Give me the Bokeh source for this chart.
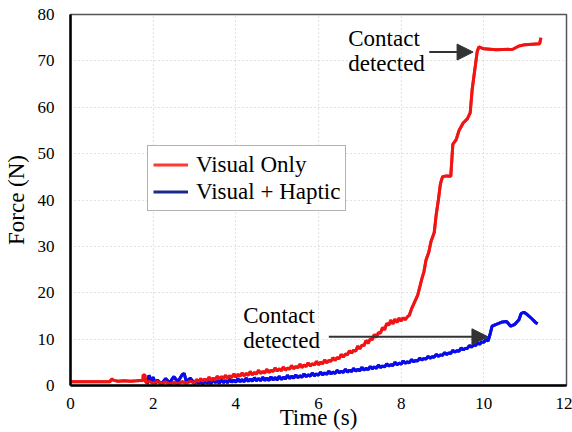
from bokeh.plotting import figure
from bokeh.models import (Range1d, Legend, LegendItem, Arrow, NormalHead, Label, FixedTicker)
from bokeh.embed import file_html
from bokeh.resources import INLINE

# ---------------- data ----------------
visual_t = [0.0, 0.5, 0.95, 1.0, 1.05, 1.15, 1.3, 1.45, 1.6, 1.7, 1.75, 1.76, 1.8, 1.82, 1.9,
            2.0, 2.1, 2.2, 2.3, 2.4, 2.5, 2.6, 2.7, 2.8, 2.9,
            3.00, 3.05, 3.10, 3.15, 3.20, 3.25, 3.30, 3.35, 3.40, 3.45,
            3.50, 3.55, 3.60, 3.65, 3.70, 3.75, 3.80, 3.85, 3.90, 3.95,
            4.00, 4.05, 4.10, 4.15, 4.20, 4.25, 4.30, 4.35, 4.40, 4.45,
            4.50, 4.55, 4.60, 4.65, 4.70, 4.75, 4.80, 4.85, 4.90, 4.95,
            5.00, 5.05, 5.10, 5.15, 5.20, 5.25, 5.30, 5.35, 5.40, 5.45,
            5.50, 5.55, 5.60, 5.65, 5.70, 5.75, 5.80, 5.85, 5.90, 5.95,
            6.00, 6.05, 6.10, 6.15, 6.20, 6.25, 6.30, 6.35, 6.40, 6.45,
            6.50, 6.55, 6.60, 6.65, 6.70, 6.75, 6.80, 6.85, 6.90, 6.95,
            7.00, 7.05, 7.10, 7.15, 7.20, 7.25, 7.30, 7.35, 7.40, 7.45,
            7.50, 7.55, 7.60, 7.65, 7.70, 7.75, 7.80, 7.85, 7.90, 7.95,
            8.00, 8.05, 8.10, 8.15, 8.20, 8.25, 8.3, 8.4, 8.5, 8.55, 8.6, 8.67, 8.72, 8.8, 8.85, 8.9, 8.95,
            9.0, 9.1, 9.2, 9.25, 9.33, 9.4, 9.5, 9.6, 9.67, 9.72, 9.78, 9.84, 9.88,
            10.0, 10.3, 10.7, 10.85, 11.0, 11.35, 11.38]
visual_f = [0.8, 0.8, 0.8, 1.4, 1.1, 0.9, 1.0, 0.9, 1.0, 1.1, 1.0, 2.3, 2.2, 0.7, 0.9,
            0.5, 0.9, 0.4, 0.8, 0.3, 0.7, 0.4, 0.8, 0.5, 0.9,
            0.6, 1.3, 0.8, 1.5, 0.9, 1.4, 1.0, 1.8, 1.1, 1.6,
            1.2, 2.0, 1.4, 1.9, 1.5, 2.2, 1.6, 2.1, 1.7, 2.5,
            1.8, 2.4, 2.0, 2.7, 2.1, 2.6, 2.2, 3.0, 2.3, 2.8,
            2.5, 3.3, 2.6, 3.0, 2.7, 3.5, 2.8, 3.3, 3.0, 3.8,
            3.1, 3.6, 3.2, 4.0, 3.3, 3.8, 3.5, 4.3, 3.6, 4.1,
            3.8, 4.6, 3.9, 4.4, 4.1, 4.9, 4.2, 4.7, 4.4, 5.2,
            4.5, 5.0, 4.7, 5.5, 4.9, 5.4, 5.2, 6.0, 5.4, 6.0,
            5.8, 6.7, 6.1, 6.8, 6.6, 7.5, 7.0, 7.6, 7.4, 8.5,
            7.9, 8.7, 8.6, 9.7, 9.1, 10.0, 9.9, 11.0, 10.4, 11.4,
            11.3, 12.5, 12.0, 13.4, 13.0, 14.1, 13.3, 14.3, 13.6, 14.5,
            13.9, 14.6, 14.2, 14.8, 15.2, 16.5, 17.5, 19.5, 23.0, 24.5, 27.0, 28.8, 31.0, 33.0, 37.0, 40.0, 43.5,
            45.0, 45.2, 45.1, 52.0, 53.0, 55.0, 56.6, 57.5, 58.8, 64.0, 68.0, 72.0, 73.0,
            72.6, 72.4, 72.5, 73.2, 73.5, 73.7, 75.0]

haptic_t = [1.85, 1.9, 1.95, 2.0, 2.05, 2.1, 2.2, 2.3, 2.4, 2.5, 2.6, 2.7, 2.75, 2.8, 2.9,
            3.00, 3.05, 3.10, 3.15, 3.20, 3.25, 3.30, 3.35, 3.40, 3.45,
            3.50, 3.55, 3.60, 3.65, 3.70, 3.75, 3.80, 3.85, 3.90, 3.95,
            4.00, 4.05, 4.10, 4.15, 4.20, 4.25, 4.30, 4.35, 4.40, 4.45,
            4.50, 4.55, 4.60, 4.65, 4.70, 4.75, 4.80, 4.85, 4.90, 4.95,
            5.00, 5.05, 5.10, 5.15, 5.20, 5.25, 5.30, 5.35, 5.40, 5.45,
            5.50, 5.55, 5.60, 5.65, 5.70, 5.75, 5.80, 5.85, 5.90, 5.95,
            6.00, 6.05, 6.10, 6.15, 6.20, 6.25, 6.30, 6.35, 6.40, 6.45,
            6.50, 6.55, 6.60, 6.65, 6.70, 6.75, 6.80, 6.85, 6.90, 6.95,
            7.00, 7.05, 7.10, 7.15, 7.20, 7.25, 7.30, 7.35, 7.40, 7.45,
            7.50, 7.55, 7.60, 7.65, 7.70, 7.75, 7.80, 7.85, 7.90, 7.95,
            8.00, 8.05, 8.10, 8.15, 8.20, 8.25, 8.30, 8.35, 8.40, 8.45,
            8.50, 8.55, 8.60, 8.65, 8.70, 8.75, 8.80, 8.85, 8.90, 8.95,
            9.00, 9.05, 9.10, 9.15, 9.20, 9.25, 9.30, 9.35, 9.40, 9.45,
            9.50, 9.55, 9.60, 9.65, 9.70, 9.75, 9.80, 9.85, 9.90, 9.95,
            10.00, 10.05, 10.10, 10.15, 10.2, 10.3, 10.45, 10.55, 10.65, 10.75, 10.85,
            10.9, 10.97, 11.05, 11.15, 11.25, 11.3]
haptic_f = [0.3, 2.2, 0.8, 1.8, 0.4, 1.2, 0.3, 1.5, 0.6, 1.9, 0.8, 2.3, 2.6, 0.9, 1.6,
            0.4, 1.0, 0.5, 0.9, 0.3, 1.1, 0.5, 0.9, 0.4, 1.2,
            0.6, 1.0, 0.5, 1.3, 0.6, 1.1, 0.6, 1.4, 0.7, 1.2,
            0.7, 1.5, 0.8, 1.3, 0.8, 1.6, 0.9, 1.4, 0.9, 1.7,
            1.0, 1.5, 1.0, 1.8, 1.1, 1.6, 1.1, 1.9, 1.2, 1.7,
            1.2, 2.0, 1.3, 1.8, 1.4, 2.2, 1.5, 2.0, 1.6, 2.3,
            1.7, 2.1, 1.8, 2.5, 1.9, 2.3, 2.0, 2.7, 2.1, 2.5,
            2.2, 2.9, 2.3, 2.7, 2.4, 3.1, 2.5, 2.9, 2.6, 3.3,
            2.7, 3.1, 2.8, 3.5, 2.9, 3.3, 3.0, 3.7, 3.1, 3.5,
            3.2, 3.9, 3.3, 3.7, 3.4, 4.1, 3.6, 4.0, 3.7, 4.4,
            3.9, 4.2, 4.0, 4.7, 4.2, 4.5, 4.3, 5.0, 4.5, 4.8,
            4.6, 5.3, 4.8, 5.1, 4.9, 5.6, 5.1, 5.4, 5.3, 5.9,
            5.5, 5.8, 5.7, 6.3, 5.9, 6.2, 6.1, 6.7, 6.3, 6.6,
            6.5, 7.1, 6.7, 7.0, 6.9, 7.6, 7.2, 7.5, 7.4, 8.1,
            7.7, 8.0, 8.0, 8.6, 8.3, 8.7, 8.6, 9.2, 8.9, 9.4,
            9.3, 9.9, 9.6, 11.0, 12.8, 13.2, 13.7, 13.8, 12.8, 13.2, 14.2,
            15.5, 15.8, 15.3, 14.5, 13.6, 13.3]

x_ticks = [0, 2, 4, 6, 8, 10, 12]
y_ticks = [0, 10, 20, 30, 40, 50, 60, 70, 80]
series_labels = ["Visual Only", "Visual + Haptic"]

# annotation positions (data units)
note_top_text = (6.72, 74.9, 69.5)      # x, baseline of "Contact", baseline of "detected"
note_top_arrow = (8.68, 9.74, 71.9)      # x_start, x_end, y
note_bot_text = (4.18, 15.0, 9.7)
note_bot_arrow = (6.25, 10.1, 10.5)

# ---------------- figure ----------------
SERIF = "Liberation Serif"
p = figure(width=572, height=432, output_backend="svg", toolbar_location=None,
           x_range=Range1d(0, 12), y_range=Range1d(0, 80),
           min_border_left=70, min_border_right=6, min_border_top=14, min_border_bottom=45,
           x_axis_label="Time (s)", y_axis_label="Force (N)")
p.background_fill_color = "white"
p.border_fill_color = "white"
p.outline_line_color = "#555555"
p.outline_line_width = 1.5

for ax in (p.xaxis[0], p.yaxis[0]):
    ax.axis_line_color = "black"
    ax.axis_line_width = 2.5
    ax.major_tick_line_color = None
    ax.minor_tick_line_color = None
    ax.major_label_text_font = SERIF
    ax.major_label_text_font_size = "17px"
    ax.major_label_text_color = "black"
    ax.axis_label_text_font = SERIF
    ax.axis_label_text_font_size = "23px"
    ax.axis_label_text_font_style = "normal"
    ax.axis_label_text_color = "black"

p.xaxis.major_label_standoff = 6
p.yaxis.major_label_standoff = 10
p.xaxis.ticker = FixedTicker(ticks=x_ticks)
p.yaxis.ticker = FixedTicker(ticks=y_ticks)
p.xaxis.axis_label_standoff = -7
p.yaxis.axis_label_standoff = 6

for g in (p.xgrid[0], p.ygrid[0]):
    g.grid_line_color = "#c4c4c4"
    g.grid_line_dash = "1 3"
    g.grid_line_width = 1

# legend-coloured underlays (fully covered by the curves drawn on top)
lr2 = p.line(haptic_t, haptic_f, line_color="#1c2a8e", line_width=3)
lr1 = p.line(visual_t, visual_f, line_color="#ff3b30", line_width=3)
# curves
p.line(haptic_t, haptic_f, line_color="#0a0af0", line_width=3)
p.line(visual_t, visual_f, line_color="#f01414", line_width=3)

legend = Legend(items=[LegendItem(label=series_labels[0], renderers=[lr1]),
                       LegendItem(label=series_labels[1], renderers=[lr2])],
                location=(77, 174), orientation="vertical",
                label_text_font=SERIF, label_text_font_size="23px",
                label_text_color="black", glyph_width=35, glyph_height=27,
                label_height=27, label_standoff=8, spacing=0, padding=5, margin=0,
                border_line_color="#666666", border_line_width=1.5,
                background_fill_color="white", background_fill_alpha=1.0)
p.add_layout(legend, "center")

# annotations
for (tx, y1, y2) in (note_top_text, note_bot_text):
    for txt, yy in (("Contact", y1), ("detected", y2)):
        p.add_layout(Label(x=tx, y=yy, text=txt, text_font=SERIF, text_font_size="23px",
                           text_color="black", text_baseline="alphabetic", text_align="left"))

for (x0, x1, yy) in (note_top_arrow, note_bot_arrow):
    p.add_layout(Arrow(end=NormalHead(size=16, fill_color="#333333", line_color="#333333"),
                       x_start=x0, y_start=yy, x_end=x1, y_end=yy,
                       line_color="#333333", line_width=2))

open("out.html", "w").write(file_html(p, INLINE))
